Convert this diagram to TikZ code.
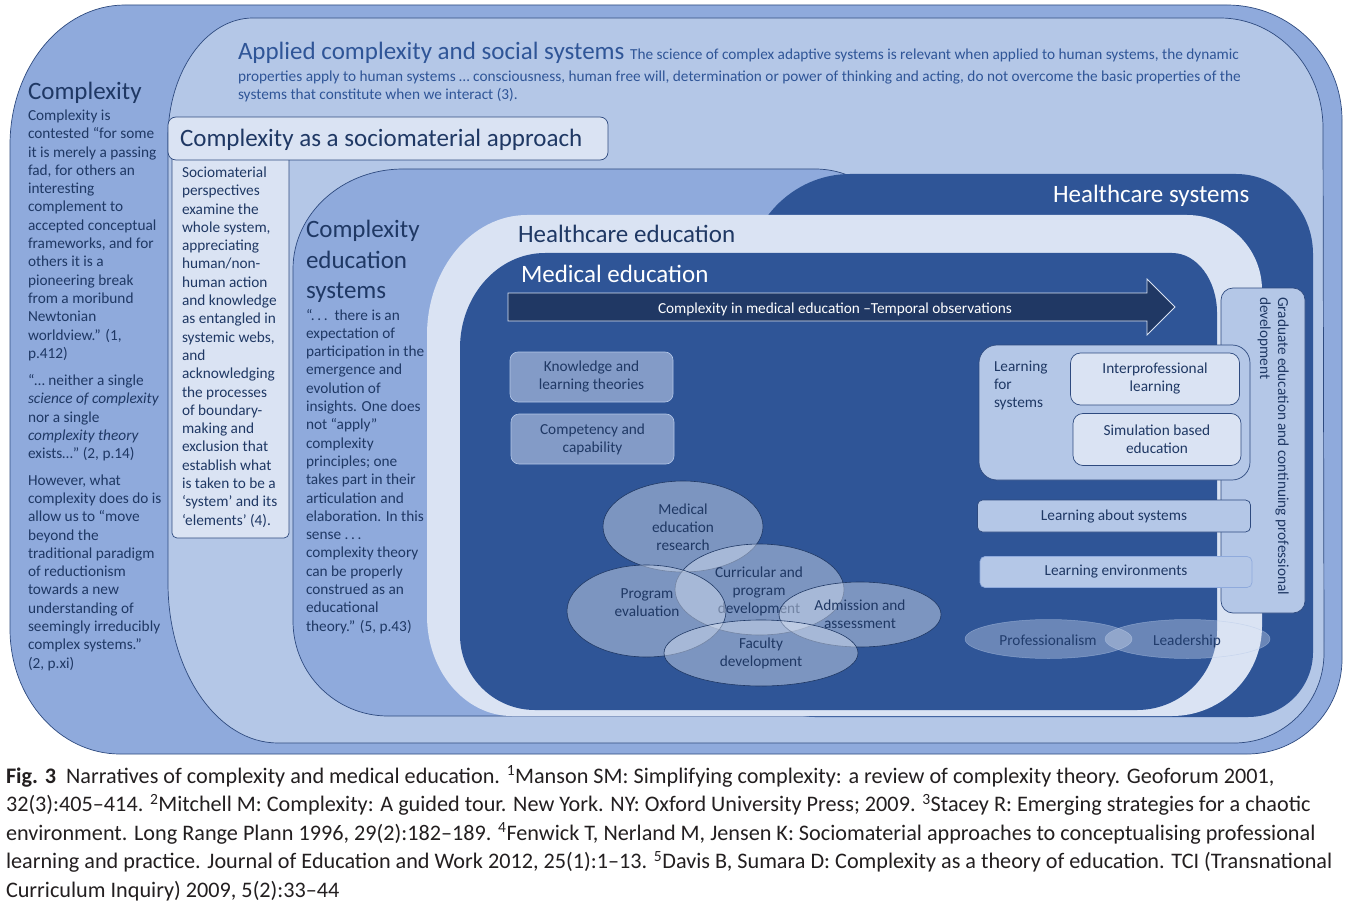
\documentclass[tikz,border=0pt]{standalone}
\usepackage{fontspec}
\setmainfont{Carlito}
\usetikzlibrary{shapes.geometric}
\definecolor{navy}{HTML}{1F3864}
\definecolor{medb}{HTML}{2F5597}
\definecolor{outerb}{HTML}{8FAADC}
\definecolor{lightb}{HTML}{B4C7E7}
\definecolor{paleb}{HTML}{DAE3F3}
\definecolor{arrowb}{HTML}{203864}
\definecolor{edge}{HTML}{2E4A7F}
\definecolor{boxb}{HTML}{839BC7}
\definecolor{capc}{HTML}{231F20}
\newcommand\myfs[2]{\fontsize{#1}{#2}\selectfont}
\newcommand\mytp[2]{\parbox[t]{#1}{\raggedright #2}}
\newcommand\mytc[2]{\parbox[t]{#1}{\centering #2}}
\tikzset{
  txt/.style={inner sep=0pt, outer sep=0pt, text=navy, anchor=base west},
  ell/.style={ellipse, draw=navy, line width=0.6pt, fill=paleb, fill opacity=0.45, inner sep=0pt},
  ellb/.style={ellipse, draw=lightb, draw opacity=0.5, line width=0.5pt, fill=paleb, fill opacity=0.35, inner sep=0pt},
  mbox/.style={draw=lightb, line width=0.6pt, fill=boxb, rounded corners=8, inner sep=0pt, align=center, text=navy, font={\myfs{15.3}{18}}},
  wbox/.style={draw=edge, line width=0.7pt, fill=paleb, rounded corners=10, inner sep=0pt, align=center, text=navy, font={\myfs{15.3}{18}}},
  lbox/.style={draw=edge, line width=0.7pt, fill=lightb, rounded corners=5, inner sep=0pt, align=center, text=navy, font={\myfs{15.3}{18}}},
  region/.style={line width=0.7pt}
}
\begin{document}
\begin{tikzpicture}[x=1pt,y=-1pt]
\useasboundingbox (0,0) rectangle (1348,909);
\fill[white] (0,0) rectangle (1348,909);
% Outer: Complexity
\path[region, fill=outerb, draw=edge] (10,145) arc[start angle=180,end angle=270,x radius=115,y radius=140] -- (1227,5) arc[start angle=270,end angle=360,x radius=115,y radius=115] -- (1342,659) arc[start angle=0,end angle=90,x radius=95,y radius=95] -- (120,754) arc[start angle=90,end angle=180,x radius=110,y radius=125] -- cycle;
% Applied complexity and social systems
\path[region, fill=lightb, draw=edge] (168,138) arc[start angle=180,end angle=270,x radius=85,y radius=120] -- (1220,18) arc[start angle=270,end angle=360,x radius=103,y radius=110] -- (1324,653) arc[start angle=0,end angle=90,x radius=90,y radius=90] -- (278,743) arc[start angle=90,end angle=180,x radius=110,y radius=160] -- cycle;
% Complexity education systems
\path[region, fill=outerb, draw=edge] (293,269) arc[start angle=180,end angle=270,x radius=110,y radius=100] -- (815,169) arc[start angle=270,end angle=360,x radius=90,y radius=90] -- (905,666) arc[start angle=0,end angle=90,x radius=50,y radius=50] -- (388,716) arc[start angle=90,end angle=180,x radius=95,y radius=95] -- cycle;
% Healthcare systems
\path[fill=medb] (745,284) arc[start angle=180,end angle=270,x radius=105,y radius=110] -- (1236,174) arc[start angle=270,end angle=360,x radius=77,y radius=80] -- (1313,652) arc[start angle=0,end angle=90,x radius=65,y radius=65] -- (815,717) arc[start angle=90,end angle=180,x radius=70,y radius=70] -- cycle;
% Healthcare education
\path[fill=paleb] (427,335) arc[start angle=180,end angle=270,x radius=100,y radius=120] -- (1187,215) arc[start angle=270,end angle=360,x radius=75,y radius=75] -- (1262,626) arc[start angle=0,end angle=90,x radius=90,y radius=90] -- (512,716) arc[start angle=90,end angle=180,x radius=85,y radius=100] -- cycle;
% Medical education
\path[fill=medb] (460,348) arc[start angle=180,end angle=270,x radius=85,y radius=95] -- (1172,253) arc[start angle=270,end angle=360,x radius=45,y radius=60] -- (1217,630) arc[start angle=0,end angle=90,x radius=80,y radius=80] -- (535,710) arc[start angle=90,end angle=180,x radius=75,y radius=75] -- cycle;

% Sociomaterial column and heading box
\path[draw=edge, line width=0.7pt, fill=paleb, rounded corners=5] (172,150) rectangle (289,538);
\path[draw=edge, line width=0.7pt, fill=paleb, rounded corners=8] (168,117) rectangle (608,160);

% Texts: outer column
\node[txt] (cxt) at (28,100) {\myfs{25}{30}Complexity};
\node[txt] (cxb) at (28,120.5) {\mytp{160pt}{\myfs{15.3}{18.3}Complexity is\\ contested “for some\\ it is merely a passing\\ fad, for others an\\ interesting\\ complement to\\ accepted conceptual\\ frameworks, and for\\ others it is a\\ pioneering break\\ from a moribund\\ Newtonian\\ worldview.” (1,\\ p.412)\\[9pt]
“… neither a single\\ \textit{science of complexity}\\ nor a single\\ \textit{complexity theory}\\ exists…” (2, p.14)\\[8pt]
However, what\\ complexity does do is\\ allow us to “move\\ beyond the\\ traditional paradigm\\ of reductionism\\ towards a new\\ understanding of\\ seemingly irreducibly\\ complex systems.”\\ (2, p.xi)}};

% Applied complexity
\node[txt, text=medb] (apt) at (238,60) {\myfs{25}{30}Applied complexity and social systems {\myfs{15.3}{18}The science of complex adaptive systems is relevant when applied to human systems, the dynamic}};
\node[txt, text=medb] (apb) at (238,82) {\mytp{1100pt}{\myfs{15.3}{18}properties apply to human systems … consciousness, human free will, determination or power of thinking and acting, do not overcome the basic properties of the\\ systems that constitute when we interact (3).}};

% Sociomaterial
\node[txt] (smt) at (180,147) {\myfs{25}{30}Complexity as a sociomaterial approach};
\node[txt] (smb) at (182,177.5) {\mytp{120pt}{\myfs{15.3}{18.3}Sociomaterial\\ perspectives\\ examine the\\ whole system,\\ appreciating\\ human/non-\\ human action\\ and knowledge\\ as entangled in\\ systemic webs,\\ and\\ acknowledging\\ the processes\\ of boundary-\\ making and\\ exclusion that\\ establish what\\ is taken to be a\\ ‘system’ and its\\ ‘elements’ (4).}};

% Complexity education systems
\node[txt] (cest) at (306,238) {\mytp{200pt}{\myfs{25}{30}Complexity\\ education\\ systems}};
\node[txt] (cesb) at (306,320) {\mytp{200pt}{\myfs{15.3}{18.3}“.\,.\,.\ \ there is an\\ expectation of\\ participation in the\\ emergence and\\ evolution of\\ insights. One does\\ not “apply”\\ complexity\\ principles; one\\ takes part in their\\ articulation and\\ elaboration. In this\\ sense .\,.\,.\\ complexity theory\\ can be properly\\ construed as an\\ educational\\ theory.” (5, p.43)}};

% Region titles
\node[txt, text=white] (hst) at (1053,203) {\myfs{25}{30}Healthcare systems};
\node[txt] (het) at (518,243) {\myfs{25}{30}Healthcare education};
\node[txt, text=white] (met) at (521,282) {\myfs{25}{30}Medical education};

% Temporal arrow
\path[fill=arrowb, draw=paleb, line width=0.8pt] (508,293) -- (1147,293) -- (1147,279) -- (1175,307) -- (1147,335) -- (1147,321) -- (508,321) -- cycle;
\node[txt, text=white] (arrt) at (658,313) {\myfs{15.3}{17}Complexity in medical education –Temporal observations};

% Left boxes
\node[mbox, minimum width=163, minimum height=50] (kn) at (591.5,377) {Knowledge and\\learning theories};
\node[mbox, minimum width=163, minimum height=50] (cc) at (592.5,439) {Competency and\\capability};

% Ellipses
\node[ell, minimum width=160, minimum height=91] (mer) at (683,526.5) {};
\node[txt, anchor=base] (mert) at (683,514) {\mytc{120pt}{\myfs{15.3}{18}Medical\\education\\research}};
\node[ell, minimum width=169, minimum height=91] (cpd) at (759.5,589.5) {};
\node[txt, anchor=base] (cpdt) at (759,577) {\mytc{120pt}{\myfs{15.3}{18}Curricular and\\program\\development}};
\node[ell, minimum width=159, minimum height=92] (pev) at (646.5,611) {};
\node[txt, anchor=base] (pevt) at (647,598) {\mytc{120pt}{\myfs{15.3}{18}Program\\evaluation}};
\node[ell, minimum width=162, minimum height=65] (adm) at (860,614.5) {};
\node[txt, anchor=base] (admt) at (860,610) {\mytc{120pt}{\myfs{15.3}{18}Admission and\\assessment}};
\node[ell, minimum width=194, minimum height=66] (fac) at (761,653) {};
\node[txt, anchor=base] (fact) at (761,648) {\mytc{120pt}{\myfs{15.3}{18}Faculty\\development}};

% Graduate education box
\path[draw=edge, line width=0.7pt, fill=lightb, rounded corners=12] (1221,288) rectangle (1305,613);
\node[txt, rotate=-90] (gdt) at (1278,297) {\mytp{400pt}{\myfs{15.3}{18}Graduate education and continuing professional\\ development}};

% Learning for systems
\path[draw=edge, line width=0.7pt, fill=lightb, rounded corners=18] (979,345) rectangle (1250,480);
\node[txt] (lfs) at (994,371) {\mytp{80pt}{\myfs{15.3}{18}Learning\\ for\\ systems}};
\node[wbox, minimum width=169, minimum height=52] (ipl) at (1155,379) {Interprofessional\\learning};
\node[wbox, minimum width=168, minimum height=52] (sbe) at (1157,439.5) {Simulation based\\education};
\node[lbox, minimum width=273, minimum height=32] (las) at (1114,516) {Learning about systems};
\node[lbox, draw=outerb, minimum width=272, minimum height=31] (lenv) at (1116,572) {Learning environments};

% Professionalism / Leadership
\node[ellb, minimum width=167, minimum height=39] (prof) at (1048.5,639) {};
\node[ellb, minimum width=165, minimum height=39] (lead) at (1187.5,639) {};
\node[txt, anchor=base, text=navy!85!medb] (proft) at (1048,645) {\myfs{15.3}{18}Professionalism};
\node[txt, anchor=base, text=navy!85!medb] (leadt) at (1187,645) {\myfs{15.3}{18}Leadership};

% Caption
\node[txt, text=capc] (cap) at (6,783.5) {\mytp{1400pt}{\myfs{22.2}{28.4}\textbf{Fig. 3}\ \ Narratives of complexity and medical education. \textsuperscript{1}Manson SM: Simplifying complexity: a review of complexity theory. Geoforum 2001,\\ 32(3):405–414. \textsuperscript{2}Mitchell M: Complexity: A guided tour. New York. NY: Oxford University Press; 2009. \textsuperscript{3}Stacey R: Emerging strategies for a chaotic\\ environment. Long Range Plann 1996, 29(2):182–189. \textsuperscript{4}Fenwick T, Nerland M, Jensen K: Sociomaterial approaches to conceptualising professional\\ learning and practice. Journal of Education and Work 2012, 25(1):1–13. \textsuperscript{5}Davis B, Sumara D: Complexity as a theory of education. TCI (Transnational\\ Curriculum Inquiry) 2009, 5(2):33–44}};
\end{tikzpicture}
\end{document}
